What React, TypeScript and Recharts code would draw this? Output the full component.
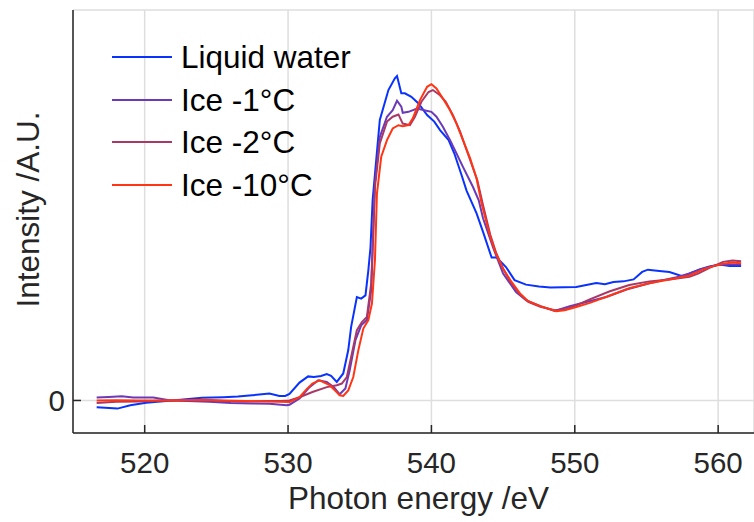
import React from 'react';
import { LineChart, Line, XAxis, YAxis, CartesianGrid, Legend } from 'recharts';

// ---- Data (photon energy in eV, intensity in A.U.) ----
const waterEnergy = [516.65, 518.1, 519.0, 520.1, 521.5, 522.5, 524.0, 525.5, 526.5, 527.5, 528.7, 529.4, 529.8, 530.1, 530.8, 531.4, 531.8, 532.3, 532.7, 533.0, 533.4, 533.85, 534.2, 534.4, 534.8, 535.1, 535.4, 535.6, 535.75, 535.9, 536.4, 537.0, 537.45, 537.6, 537.9, 538.15, 538.6, 539.1, 539.7, 540.2, 540.6, 541.2, 541.6, 542.1, 542.45, 543.15, 543.6, 544.2, 544.55, 545.2, 545.8, 546.6, 547.5, 548.3, 549.2, 550.1, 550.8, 551.5, 552.1, 552.7, 553.4, 554.1, 554.7, 555.1, 555.9, 556.6, 557.55, 558.1, 558.7, 559.4, 560.1, 560.8, 561.6];
const waterValues = [-0.021, -0.025, -0.015, -0.007, -0.002, 0.002, 0.008, 0.010, 0.012, 0.016, 0.021, 0.014, 0.014, 0.020, 0.055, 0.074, 0.072, 0.075, 0.081, 0.076, 0.057, 0.083, 0.155, 0.226, 0.318, 0.313, 0.323, 0.400, 0.470, 0.616, 0.862, 0.954, 0.990, 0.997, 0.944, 0.944, 0.933, 0.913, 0.877, 0.857, 0.831, 0.800, 0.759, 0.693, 0.645, 0.575, 0.518, 0.439, 0.439, 0.410, 0.370, 0.356, 0.350, 0.347, 0.348, 0.349, 0.355, 0.361, 0.357, 0.364, 0.366, 0.372, 0.395, 0.402, 0.398, 0.395, 0.381, 0.392, 0.403, 0.412, 0.418, 0.413, 0.413];

const ice1Energy = [516.65, 517.5, 518.4, 519.2, 520.6, 521.8, 523.0, 524.5, 526.0, 527.5, 528.7, 529.9, 530.1, 530.8, 531.5, 532.1, 532.7, 533.2, 533.6, 534.0, 534.3, 534.7, 535.1, 535.5, 535.8, 536.06, 536.4, 536.9, 537.3, 537.6, 537.9, 538.0, 538.4, 539.0, 539.5, 540.0, 540.35, 540.8, 541.3, 541.75, 542.2, 542.9, 543.3, 543.6, 544.3, 545.0, 545.9, 546.6, 547.6, 548.6, 549.65, 550.6, 551.5, 552.2, 553.6, 555.2, 557.1, 558.0, 558.95, 560.1, 561.0, 561.6];
const ice1Values = [0.009, 0.011, 0.013, 0.009, 0.009, 0.000, -0.002, -0.004, -0.008, -0.009, -0.010, -0.015, -0.013, 0.006, 0.041, 0.062, 0.057, 0.041, 0.019, 0.037, 0.093, 0.185, 0.231, 0.247, 0.338, 0.667, 0.810, 0.872, 0.892, 0.921, 0.903, 0.884, 0.887, 0.897, 0.892, 0.887, 0.872, 0.841, 0.800, 0.759, 0.718, 0.656, 0.615, 0.560, 0.470, 0.390, 0.333, 0.308, 0.290, 0.275, 0.290, 0.300, 0.310, 0.318, 0.341, 0.360, 0.379, 0.390, 0.405, 0.418, 0.418, 0.418];

const ice2Energy = [516.65, 518.0, 519.5, 521.0, 522.5, 524.0, 525.5, 527.0, 528.5, 529.5, 530.1, 530.8, 531.7, 532.7, 533.4, 533.75, 534.1, 534.4, 534.8, 535.15, 535.5, 535.8, 536.06, 536.4, 536.9, 537.3, 537.7, 538.0, 538.5, 538.85, 539.3, 539.8, 540.1, 540.6, 541.0, 541.5, 542.0, 542.7, 543.2, 543.6, 544.1, 544.5, 545.0, 545.5, 546.2, 546.75, 547.6, 548.6, 549.3, 550.1, 551.0, 552.4, 553.8, 555.2, 556.6, 558.0, 558.6, 559.5, 560.35, 561.0, 561.6];
const ice2Values = [-0.008, -0.004, -0.003, -0.001, 0.000, 0.001, -0.002, -0.003, -0.002, -0.002, 0.000, 0.010, 0.026, 0.041, 0.047, 0.052, 0.072, 0.134, 0.216, 0.241, 0.257, 0.360, 0.656, 0.790, 0.857, 0.872, 0.879, 0.851, 0.846, 0.872, 0.918, 0.948, 0.954, 0.938, 0.918, 0.877, 0.826, 0.739, 0.677, 0.600, 0.510, 0.455, 0.405, 0.365, 0.325, 0.303, 0.288, 0.277, 0.280, 0.292, 0.310, 0.335, 0.355, 0.366, 0.372, 0.380, 0.390, 0.410, 0.426, 0.430, 0.428];

const ice10Energy = [516.65, 518.0, 519.5, 521.0, 522.5, 524.0, 525.5, 527.0, 528.5, 529.4, 530.1, 530.8, 531.3, 531.7, 532.2, 532.9, 533.3, 533.6, 533.85, 534.2, 534.55, 534.9, 535.25, 535.6, 535.85, 536.06, 536.2, 536.5, 536.9, 537.3, 537.7, 538.0, 538.4, 538.7, 539.2, 539.7, 540.0, 540.35, 540.8, 541.3, 541.75, 542.2, 542.7, 543.15, 543.5, 544.1, 544.5, 545.0, 545.5, 546.2, 546.75, 547.6, 548.7, 549.3, 550.1, 551.05, 552.4, 553.8, 555.2, 556.6, 558.0, 558.95, 559.6, 560.35, 561.0, 561.6];
const ice10Values = [0.000, 0.001, 0.000, 0.000, 0.001, 0.002, 0.000, -0.002, -0.003, -0.004, -0.005, 0.010, 0.035, 0.052, 0.062, 0.047, 0.030, 0.016, 0.014, 0.031, 0.072, 0.154, 0.221, 0.247, 0.298, 0.430, 0.636, 0.749, 0.800, 0.836, 0.846, 0.843, 0.846, 0.867, 0.923, 0.964, 0.972, 0.959, 0.928, 0.892, 0.851, 0.800, 0.744, 0.682, 0.605, 0.503, 0.451, 0.405, 0.370, 0.328, 0.305, 0.290, 0.274, 0.277, 0.287, 0.300, 0.322, 0.345, 0.360, 0.372, 0.384, 0.403, 0.412, 0.420, 0.424, 0.422];

const xTicks = [520, 530, 540, 550, 560];
const yTicks = [0];

const seriesNames = ['Liquid water', 'Ice -1°C', 'Ice -2°C', 'Ice -10°C'];
const seriesColors = ['#0a32ff', '#6a3ab8', '#a83866', '#ff3514'];

const toPoints = (e: number[], v: number[]) => e.map((x, i) => ({ energy: x, value: v[i] }));
const seriesData = [
  toPoints(waterEnergy, waterValues),
  toPoints(ice1Energy, ice1Values),
  toPoints(ice2Energy, ice2Values),
  toPoints(ice10Energy, ice10Values),
];

const FONT = '"Liberation Sans", Arial, Helvetica, sans-serif';
const AXIS = '#262626';
const FS = 29.5;
const LFS = 31.5;

const BottomTick = (props: any) => {
  const { x, y, payload } = props;
  return (
    <g>
      <line x1={x} y1={y} x2={x} y2={y - 8} stroke={AXIS} strokeWidth={1.5} />
      <text x={x} y={y + 40} textAnchor="middle" fontSize={FS} fontFamily={FONT} fill={AXIS}>
        {payload.value}
      </text>
    </g>
  );
};

const TopTick = (props: any) => {
  const { x, y } = props;
  return <line x1={x} y1={y} x2={x} y2={y + 8} stroke={AXIS} strokeWidth={1.5} />;
};

const LeftTick = (props: any) => {
  const { x, y, payload } = props;
  return (
    <g>
      <line x1={x} y1={y} x2={x + 8} y2={y} stroke={AXIS} strokeWidth={1.5} />
      <text x={x - 8} y={y} dy="0.36em" textAnchor="end" fontSize={FS} fontFamily={FONT} fill={AXIS}>
        {payload.value}
      </text>
    </g>
  );
};

const LegendContent = () => (
  <div style={{ fontFamily: FONT }}>
    {seriesNames.map((n, i) => (
      <div key={n} style={{ display: 'flex', alignItems: 'center', height: 42.5 }}>
        <svg width={60} height={4} style={{ marginRight: 9 }}>
          <line x1={0} y1={2} x2={60} y2={2} stroke={seriesColors[i]} strokeWidth={2} />
        </svg>
        <span style={{ fontSize: LFS, color: '#000', lineHeight: '42.5px', whiteSpace: 'nowrap' }}>{n}</span>
      </div>
    ))}
  </div>
);

export default function App() {
  return (
    <div style={{ position: 'fixed', left: 0, top: 0, width: 754, height: 522, overflow: 'hidden', background: '#fff' }}>
      <LineChart width={754} height={522} margin={{ top: 10, right: 0, left: 0, bottom: 0 }}>
        <CartesianGrid stroke="#dedede" strokeWidth={1.5} />
        <XAxis
          dataKey="energy"
          type="number"
          domain={[515, 562.5]}
          ticks={xTicks}
          allowDataOverflow
          height={89}
          axisLine={{ stroke: AXIS, strokeWidth: 1.5 }}
          tickLine={false}
          tickSize={0}
          tickMargin={0}
          tick={<BottomTick />}
          label={(p: any) => {
            const vb = p.viewBox;
            return (
              <text x={vb.x + vb.width / 2 + 5} y={vb.y + 76} textAnchor="middle" fontSize={LFS} fontFamily={FONT} fill={AXIS}>
                Photon energy /eV
              </text>
            );
          }}
        />
        <XAxis
          xAxisId="top"
          orientation="top"
          dataKey="energy"
          type="number"
          domain={[515, 562.5]}
          ticks={xTicks}
          allowDataOverflow
          height={0}
          axisLine={{ stroke: AXIS, strokeWidth: 1.5 }}
          tickLine={false}
          tickSize={0}
          tickMargin={0}
          tick={<TopTick />}
        />
        <YAxis
          type="number"
          domain={[-0.1, 1.2]}
          ticks={yTicks}
          allowDataOverflow
          width={73}
          axisLine={{ stroke: AXIS, strokeWidth: 1.5 }}
          tickLine={false}
          tickSize={0}
          tickMargin={0}
          tick={<LeftTick />}
          label={(p: any) => {
            const vb = p.viewBox;
            const cx = 28;
            const cy = vb.y + vb.height / 2 - 12;
            return (
              <text x={cx} y={cy} transform={`rotate(-90 ${cx} ${cy})`} textAnchor="middle" dy="0.36em" fontSize={LFS} fontFamily={FONT} fill={AXIS}>
                Intensity /A.U.
              </text>
            );
          }}
        />
        <Legend
          layout="vertical"
          align="center"
          verticalAlign="middle"
          content={<LegendContent />}
          wrapperStyle={{ position: 'absolute', left: 112, top: 36, width: 'auto', height: 'auto' }}
        />
        {seriesData.map((d, i) => (
          <Line
            key={seriesNames[i]}
            data={d}
            dataKey="value"
            name={seriesNames[i]}
            type="linear"
            stroke={seriesColors[i]}
            strokeWidth={2}
            dot={false}
            isAnimationActive={false}
          />
        ))}
      </LineChart>
    </div>
  );
}
